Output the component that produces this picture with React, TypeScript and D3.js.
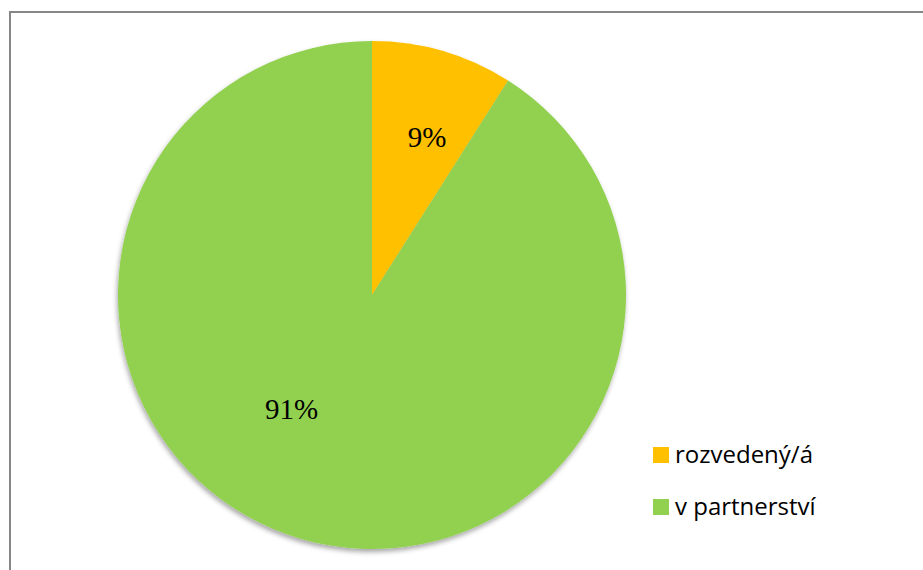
import React, { useRef, useEffect } from 'react';
import * as d3 from 'd3';

const CATEGORIES = ['rozvedený/á', 'v partnerství'];
const VALUES = [9, 91];
const COLORS = ['#FFC000', '#92D050'];
// label placement tweaks (angle shift in degrees, radius fraction) per slice
const LABEL_SHIFT = [3, 19];
const LABEL_RADIUS = [0.66, 0.55];

const App: React.FC = () => {
    const svgRef = useRef<SVGSVGElement | null>(null);

    useEffect(() => {
        if (!svgRef.current) return;
        const width = 923, height = 570;
        const svg = d3.select(svgRef.current);
        svg.selectAll('*').remove();
        svg.attr('width', width).attr('height', height);

        svg.append('rect').attr('width', width).attr('height', height).attr('fill', '#fff');

        // chart frame (runs off the right / bottom edge)
        svg.append('rect')
            .attr('x', 10).attr('y', 12)
            .attr('width', width + 20).attr('height', height + 20)
            .attr('fill', 'none').attr('stroke', '#878787').attr('stroke-width', 2);

        const defs = svg.append('defs');
        const f = defs.append('filter').attr('id', 'shadow')
            .attr('x', '-10%').attr('y', '-10%').attr('width', '120%').attr('height', '120%');
        f.append('feDropShadow')
            .attr('dx', -1).attr('dy', 3).attr('stdDeviation', 2.5)
            .attr('flood-color', '#000').attr('flood-opacity', 0.35);

        const cx = 372, cy = 295, r = 254;
        const pie = d3.pie<number>().sort(null).value(d => d);
        const arcs = pie(VALUES);
        const arc = d3.arc<d3.PieArcDatum<number>>().innerRadius(0).outerRadius(r);
        const total = d3.sum(VALUES);

        const g = svg.append('g').attr('transform', `translate(${cx},${cy})`);
        g.append('g').attr('filter', 'url(#shadow)')
            .selectAll('path')
            .data(arcs)
            .join('path')
            .attr('d', arc)
            .attr('fill', (_, i) => COLORS[i]);

        g.selectAll('text.lbl')
            .data(arcs)
            .join('text')
            .attr('class', 'lbl')
            .attr('transform', (d, i) => {
                const a = (d.startAngle + d.endAngle) / 2 + (LABEL_SHIFT[i] * Math.PI) / 180;
                const rr = r * LABEL_RADIUS[i];
                return `translate(${Math.sin(a) * rr},${-Math.cos(a) * rr})`;
            })
            .attr('text-anchor', 'middle')
            .attr('dy', '0.35em')
            .attr('font-family', '"Liberation Serif", "Times New Roman", serif')
            .attr('font-size', 29)
            .attr('fill', '#000')
            .text(d => `${Math.round((d.data / total) * 100)}%`);

        // legend
        const legend = svg.append('g').attr('transform', 'translate(653,447)');
        const items = legend.selectAll('g')
            .data(CATEGORIES)
            .join('g')
            .attr('transform', (_, i) => `translate(0,${i * 52})`);
        items.append('rect').attr('width', 16).attr('height', 16).attr('fill', (_, i) => COLORS[i]);
        items.append('text')
            .attr('x', 22).attr('y', 16)
            .attr('font-family', '"Open Sans", "Noto Sans", sans-serif')
            .attr('font-size', 24)
            .attr('fill', '#000')
            .text(d => d);
    }, []);

    return <svg ref={svgRef} style={{ position: 'absolute', left: 0, top: 0 }}></svg>;
};

export default App;
